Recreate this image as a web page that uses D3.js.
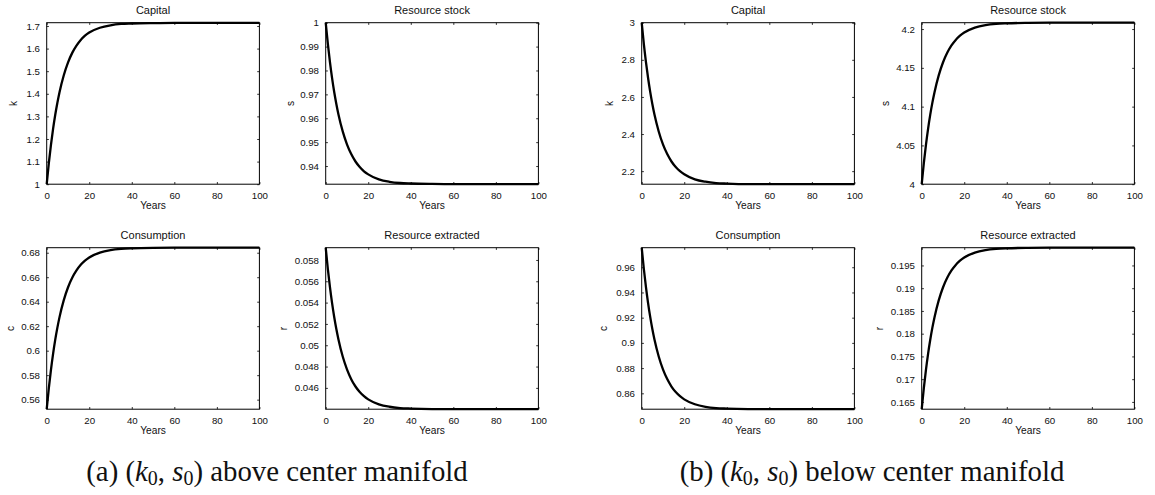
<!DOCTYPE html>
<html>
<head>
<meta charset="utf-8">
<script src="https://cdn.jsdelivr.net/npm/d3@7"></script>
<style>
  html, body { margin: 0; padding: 0; background: #fff; }
  svg { display: block; }
  .tick-label { font-family: "Liberation Sans", Arial, sans-serif; font-size: 9.7px; fill: #111; }
  .title { font-family: "Liberation Sans", Arial, sans-serif; font-size: 11px; fill: #111; }
  .axis-label { font-family: "Liberation Sans", Arial, sans-serif; font-size: 10.2px; fill: #111; }
  .caption { font-family: "Liberation Serif", "Times New Roman", serif; font-size: 28.8px; fill: #111; }
</style>
</head>
<body>
<svg id="fig" width="1155" height="495"></svg>
<script>
// Time grid (years) shared by all simulated paths
const years = [0, 1, 2, 3, 4, 5, 6, 8, 10, 12, 14, 16, 18, 20, 25, 30, 35, 40, 50, 60, 80, 100];

// (a) initial point above the center manifold
const capitalA     = [1.000, 1.093, 1.174, 1.245, 1.306, 1.359, 1.406, 1.481, 1.538, 1.581, 1.613, 1.638, 1.657, 1.671, 1.692, 1.703, 1.709, 1.711, 1.713, 1.714, 1.714, 1.714];
const stockA       = [1.0000, 0.9912, 0.9835, 0.9768, 0.9710, 0.9660, 0.9616, 0.9545, 0.9491, 0.9450, 0.9419, 0.9396, 0.9378, 0.9365, 0.9344, 0.9334, 0.9329, 0.9327, 0.9325, 0.9324, 0.9324, 0.9324];
const consumptionA = [0.5522, 0.5694, 0.5844, 0.5974, 0.6088, 0.6186, 0.6272, 0.6411, 0.6516, 0.6595, 0.6655, 0.6701, 0.6735, 0.6761, 0.6801, 0.6821, 0.6831, 0.6836, 0.6840, 0.6841, 0.6841, 0.6841];
const extractedA   = [0.05915, 0.05717, 0.05545, 0.05395, 0.05265, 0.05152, 0.05054, 0.04894, 0.04774, 0.04682, 0.04613, 0.04561, 0.04522, 0.04492, 0.04446, 0.04423, 0.04411, 0.04406, 0.04401, 0.04400, 0.04400, 0.04400];

// (b) initial point below the center manifold
const capitalB     = [3.000, 2.886, 2.788, 2.702, 2.627, 2.562, 2.505, 2.414, 2.344, 2.292, 2.252, 2.222, 2.200, 2.183, 2.156, 2.143, 2.136, 2.133, 2.130, 2.130, 2.130, 2.130];
const stockB       = [4.0000, 4.0272, 4.0508, 4.0714, 4.0893, 4.1048, 4.1183, 4.1403, 4.1569, 4.1694, 4.1789, 4.1860, 4.1914, 4.1955, 4.2019, 4.2051, 4.2067, 4.2074, 4.2080, 4.2082, 4.2082, 4.2082];
const consumptionB = [0.9755, 0.9588, 0.9442, 0.9316, 0.9206, 0.9110, 0.9027, 0.8892, 0.8790, 0.8713, 0.8654, 0.8610, 0.8577, 0.8552, 0.8513, 0.8493, 0.8483, 0.8479, 0.8475, 0.8474, 0.8474, 0.8474];
const extractedB   = [0.16340, 0.16804, 0.17207, 0.17558, 0.17862, 0.18127, 0.18357, 0.18732, 0.19015, 0.19228, 0.19390, 0.19512, 0.19604, 0.19674, 0.19783, 0.19837, 0.19864, 0.19877, 0.19887, 0.19890, 0.19890, 0.19890];

// Axis tick labels
const xTicks = ["0", "20", "40", "60", "80", "100"];
const capitalATicks     = ["1", "1.1", "1.2", "1.3", "1.4", "1.5", "1.6", "1.7"];
const stockATicks       = ["0.94", "0.95", "0.96", "0.97", "0.98", "0.99", "1"];
const consumptionATicks = ["0.56", "0.58", "0.6", "0.62", "0.64", "0.66", "0.68"];
const extractedATicks   = ["0.046", "0.048", "0.05", "0.052", "0.054", "0.056", "0.058"];
const capitalBTicks     = ["2.2", "2.4", "2.6", "2.8", "3"];
const stockBTicks       = ["4", "4.05", "4.1", "4.15", "4.2"];
const consumptionBTicks = ["0.86", "0.88", "0.9", "0.92", "0.94", "0.96"];
const extractedBTicks   = ["0.165", "0.17", "0.175", "0.18", "0.185", "0.19", "0.195"];

const panelTitles = ["Capital", "Resource stock", "Consumption", "Resource extracted"];
const yLabels = ["k", "s", "c", "r"];
const captions = ["above center manifold", "below center manifold"];

// Panel layout: column left edges, row top edges, box size
const colLeft = [46.7, 325.7, 641.7, 921.7];
const rowTop = [22.7, 247.7];
const boxW = 212.7, boxH = 161.5;
const tickLen = 2.2;
// horizontal offset of the rotated y label baseline from the box
const yLabelOffset = [[-29.4, -33], [-31.7, -39], [-29, -35], [-32.4, -38.4]];

const panels = [
  { col: 0, row: 0, values: capitalA,     ticks: capitalATicks,     domain: [1.0, 1.7145],     kind: 0 },
  { col: 1, row: 0, values: stockA,       ticks: stockATicks,       domain: [0.9324, 1.0],     kind: 1 },
  { col: 0, row: 1, values: consumptionA, ticks: consumptionATicks, domain: [0.5522, 0.6841],  kind: 2 },
  { col: 1, row: 1, values: extractedA,   ticks: extractedATicks,   domain: [0.0440, 0.05915], kind: 3 },
  { col: 2, row: 0, values: capitalB,     ticks: capitalBTicks,     domain: [2.1297, 3.0],     kind: 0 },
  { col: 3, row: 0, values: stockB,       ticks: stockBTicks,       domain: [4.0, 4.2082],     kind: 1 },
  { col: 2, row: 1, values: consumptionB, ticks: consumptionBTicks, domain: [0.8474, 0.9755],  kind: 2 },
  { col: 3, row: 1, values: extractedB,   ticks: extractedBTicks,   domain: [0.1634, 0.1989],  kind: 3 }
];

const svg = d3.select("#fig");

panels.forEach(p => {
  const x0 = colLeft[p.col], y0 = rowTop[p.row];
  const g = svg.append("g").attr("transform", `translate(${x0},${y0})`);

  const x = d3.scaleLinear().domain([0, 100]).range([0, boxW]);
  const y = d3.scaleLinear().domain(p.domain).range([boxH, 0]);

  const xt = xTicks.map(Number);
  const yt = p.ticks.map(Number);

  // bottom and left axes: inward ticks with labels
  const bottom = g.append("g").attr("transform", `translate(0,${boxH})`)
    .call(d3.axisBottom(x).tickValues(xt).tickFormat((d, i) => xTicks[i])
      .tickSizeInner(-tickLen).tickSizeOuter(0).tickPadding(8 + tickLen));
  const left = g.append("g")
    .call(d3.axisLeft(y).tickValues(yt).tickFormat((d, i) => p.ticks[i])
      .tickSizeInner(-tickLen).tickSizeOuter(0).tickPadding(4.5 + tickLen));
  // mirrored ticks on top and right
  const top = g.append("g")
    .call(d3.axisTop(x).tickValues(xt).tickFormat("").tickSizeInner(-tickLen).tickSizeOuter(0));
  const right = g.append("g").attr("transform", `translate(${boxW},0)`)
    .call(d3.axisRight(y).tickValues(yt).tickFormat("").tickSizeInner(-tickLen).tickSizeOuter(0));

  [bottom, left, top, right].forEach(a => {
    a.select(".domain").remove();
    a.selectAll(".tick line").attr("stroke", "#000").attr("stroke-width", 0.8);
    a.selectAll(".tick text").attr("class", "tick-label").attr("font-family", null).attr("font-size", null);
  });
  bottom.selectAll(".tick text").attr("dy", null).attr("y", 14.5);

  // trajectory
  const line = d3.line()
    .x((d, i) => x(years[i]))
    .y(d => y(d))
    .curve(d3.curveMonotoneX);
  g.append("path")
    .datum(p.values)
    .attr("d", line)
    .attr("fill", "none")
    .attr("stroke", "#000")
    .attr("stroke-width", 2.3)
    .attr("stroke-linejoin", "round");

  // axes box
  g.append("rect")
    .attr("x", 0).attr("y", 0).attr("width", boxW).attr("height", boxH)
    .attr("fill", "none").attr("stroke", "#000").attr("stroke-width", 1);

  // title and axis labels
  g.append("text").attr("class", "title")
    .attr("x", boxW / 2).attr("y", -8.7).attr("text-anchor", "middle")
    .text(panelTitles[p.kind]);
  g.append("text").attr("class", "axis-label")
    .attr("x", boxW / 2).attr("y", boxH + 25.3).attr("text-anchor", "middle")
    .text("Years");
  const lx = yLabelOffset[p.col][p.row];
  g.append("text").attr("class", "axis-label")
    .attr("transform", `translate(${lx},${boxH / 2}) rotate(-90)`)
    .attr("text-anchor", "middle")
    .text(yLabels[p.kind]);
});

// sub-figure captions
const capCenters = [277, 872];
["a", "b"].forEach((tag, i) => {
  const t = svg.append("text").attr("class", "caption")
    .attr("x", capCenters[i]).attr("y", 481).attr("text-anchor", "middle");
  t.append("tspan").text(`(${tag}) (`);
  t.append("tspan").attr("font-style", "italic").text("k");
  t.append("tspan").attr("font-size", "20px").attr("dy", 4).text("0");
  t.append("tspan").attr("dy", -4).text(", ");
  t.append("tspan").attr("font-style", "italic").text("s");
  t.append("tspan").attr("font-size", "20px").attr("dy", 4).text("0");
  t.append("tspan").attr("dy", -4).text(`) ${captions[i]}`);
});
</script>
</body>
</html>
